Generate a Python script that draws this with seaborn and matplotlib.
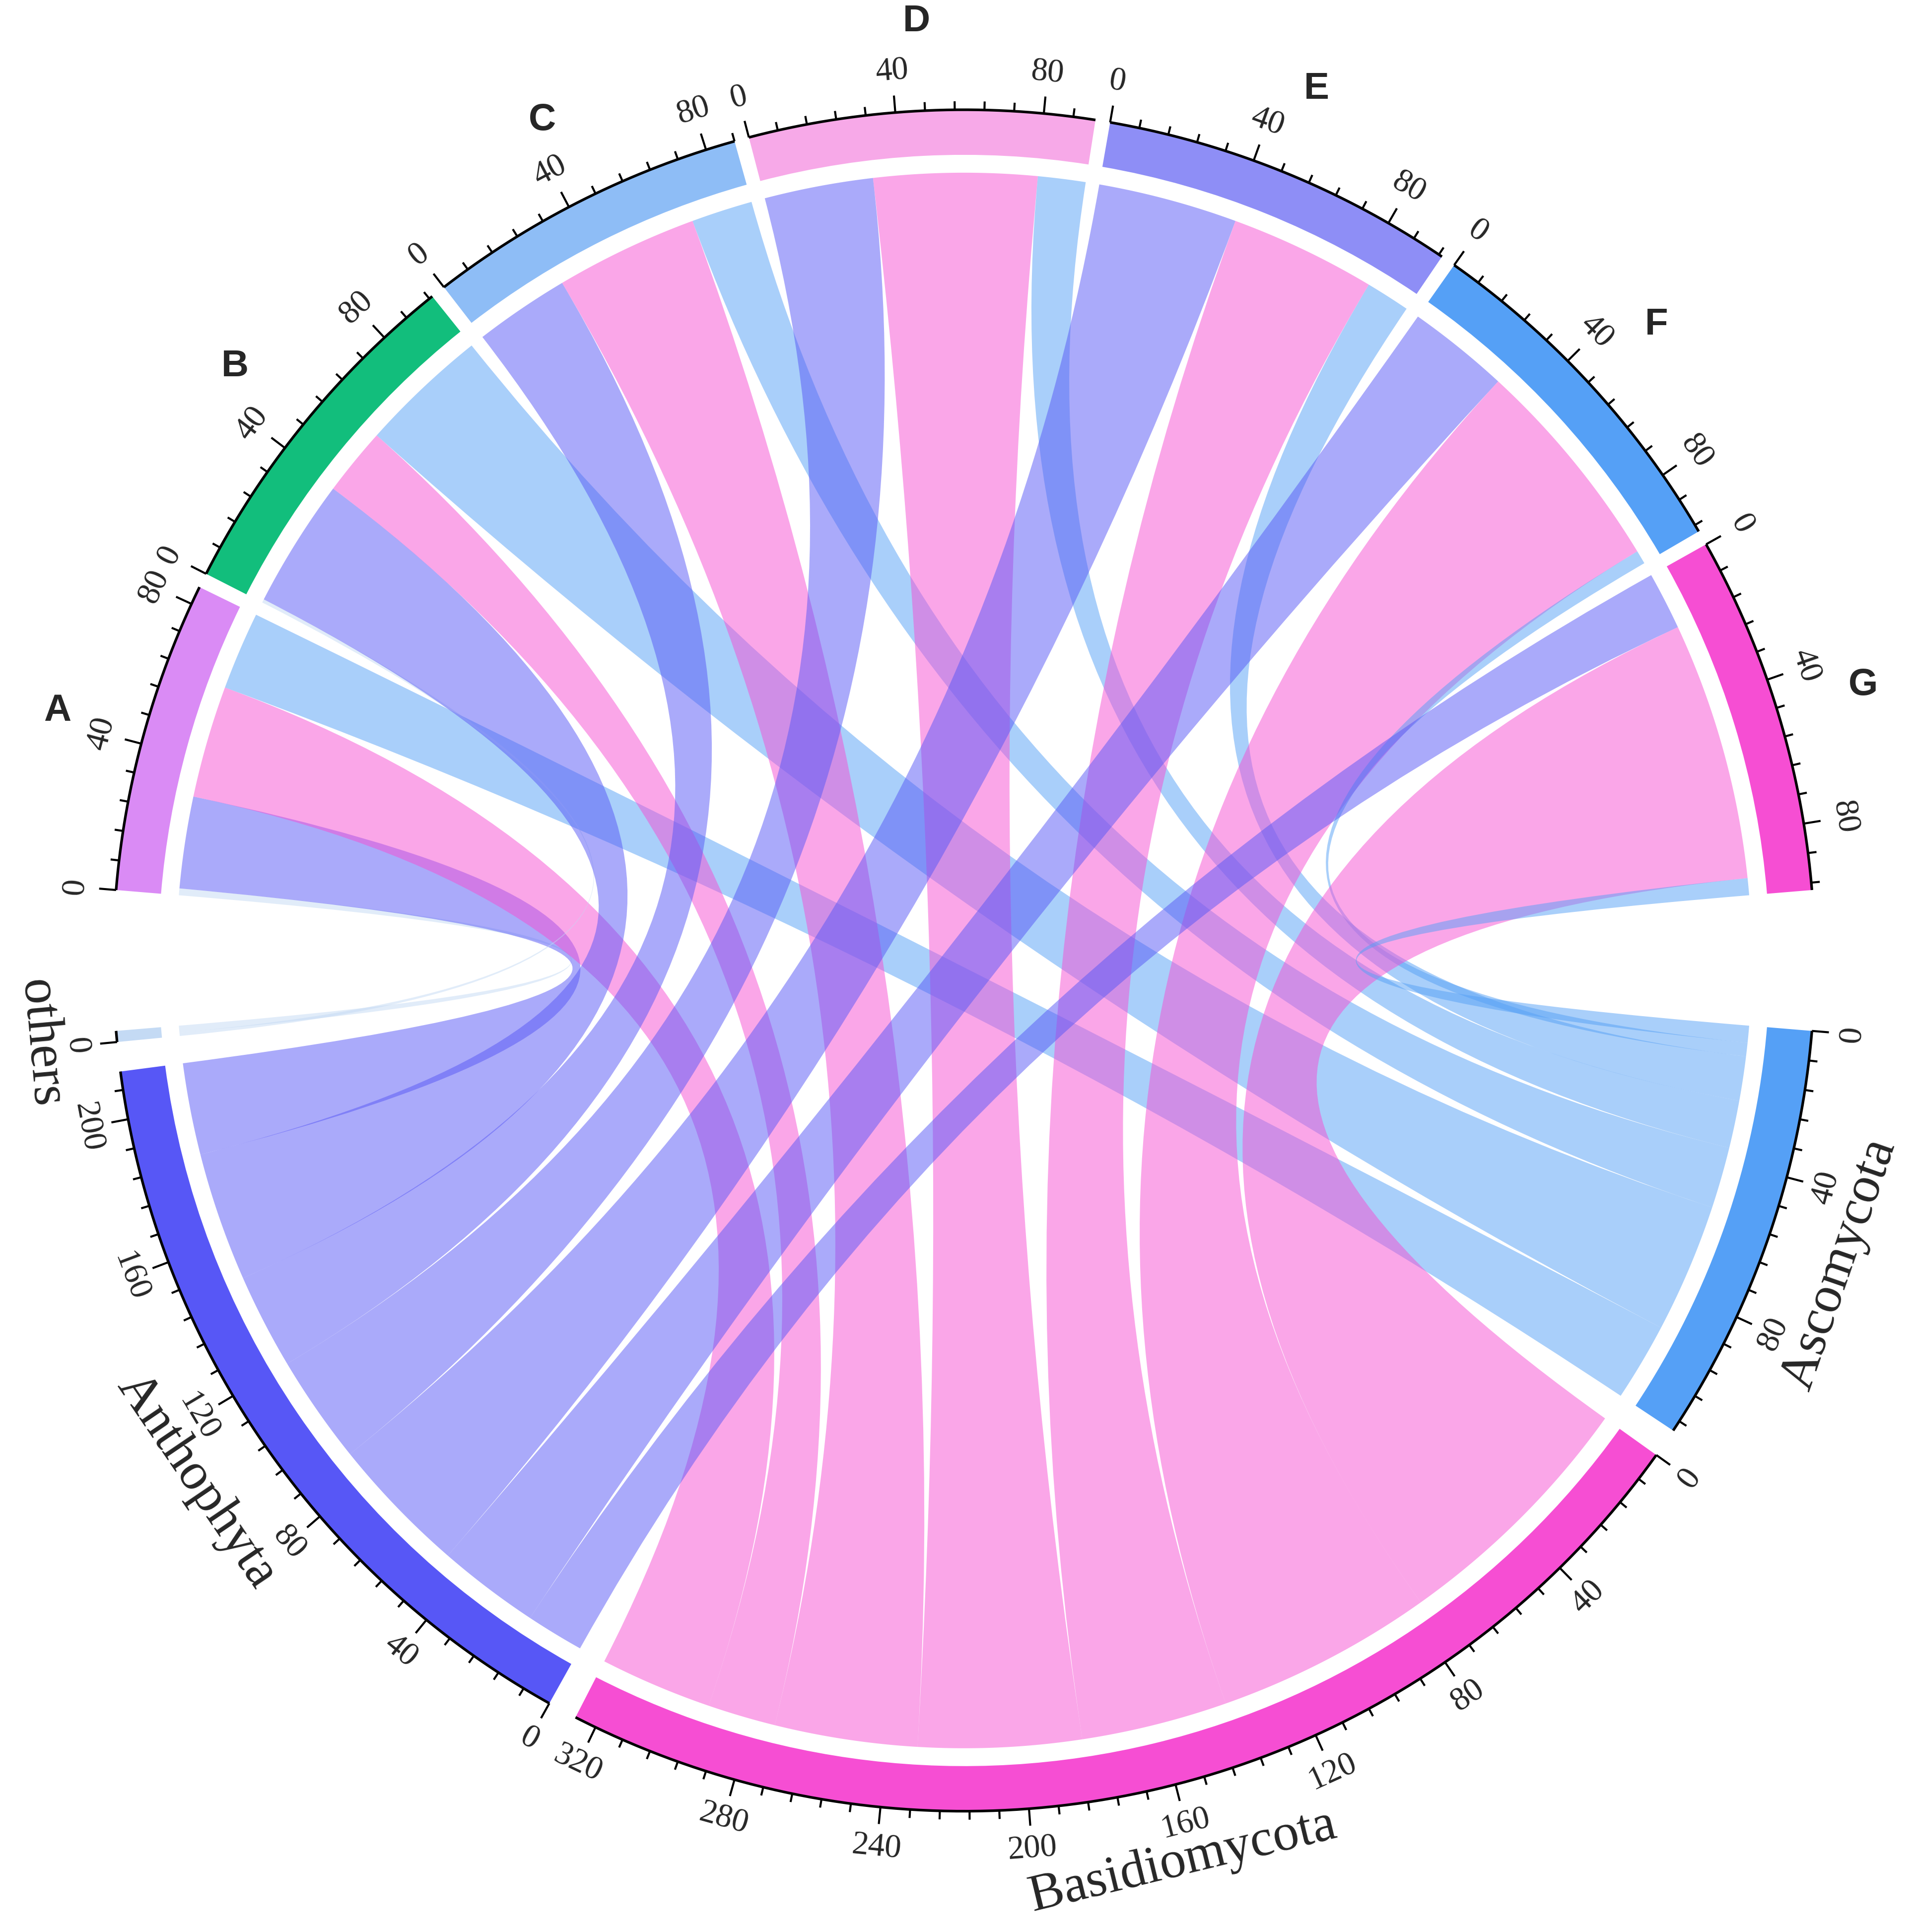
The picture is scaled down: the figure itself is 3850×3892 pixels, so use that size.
import numpy as np
import matplotlib
matplotlib.use("Agg")
import matplotlib.pyplot as plt
from matplotlib.path import Path
from matplotlib.patches import PathPatch, Wedge
from matplotlib.colors import to_rgba
import seaborn as sns

# sectors: upper half (groups A-G) and lower half (phyla)
top_names = ["A", "B", "C", "D", "E", "F", "G"]
bottom_names = ["Ascomycota", "Basidiomycota", "Anthophyta", "others"]

# link values, one entry per group A..G
to_others = [2, 1, 0, 0, 0, 0, 0]
to_anthophyta = [27, 38, 28, 32, 41, 30, 17]
to_basidiomycota = [33, 20, 42, 48, 43, 64, 76]
to_ascomycota = [23, 38, 18, 14, 13, 4, 5]

top_colors = ["#DA8BF5", "#12BE7C", "#8EBDF6", "#F7A9E8", "#8E8EF6", "#55A0F6", "#F64ED3"]
bottom_colors = ["#55A0F6", "#F64ED3", "#5757F6", "#C4DAF4"]

sns.set_theme(style="white")
plt.rcParams["font.family"] = ["Liberation Serif", "DejaVu Serif"]

links = {
    "others": to_others,
    "Anthophyta": to_anthophyta,
    "Basidiomycota": to_basidiomycota,
    "Ascomycota": to_ascomycota,
}
link_order_top = ["others", "Anthophyta", "Basidiomycota", "Ascomycota"]
bcol = dict(zip(bottom_names, bottom_colors))

n_top = len(top_names)
top_tot = [sum(links[b][i] for b in links) for i in range(n_top)]
bot_tot = {b: sum(links[b]) for b in bottom_names}
total = sum(top_tot)

deg_per = 164.5 / total
gap_top, gap_bot = 1.0, 2.0

top_start = []
a = 175.25
for v in top_tot:
    top_start.append(a)
    a -= v * deg_per + gap_top
bot_start = {}
a = -4.75
for b in bottom_names:
    bot_start[b] = a
    a -= bot_tot[b] * deg_per + gap_bot

R_OUT, TRACK_W, R_LINK = 1.0, 0.053, 0.926

fig = plt.figure(figsize=(38.5, 38.92), dpi=100)
ax = fig.add_axes([0, 0, 1, 1])
ax.set_xlim(-1.133, 1.113)
ax.set_ylim(-1.142, 1.129)
ax.axis("off")


def ang(start, val):
    return start - val * deg_per


def ribbon(ta0, ta1, ba0, ba1, r=R_LINK):
    t = np.radians(np.linspace(ta0, ta1, 80))
    b = np.radians(np.linspace(ba0, ba1, 80))
    verts = list(zip(r * np.cos(t), r * np.sin(t)))
    codes = [Path.MOVETO] + [Path.LINETO] * (len(t) - 1)
    verts += [(0, 0), (r * np.cos(b[0]), r * np.sin(b[0]))]
    codes += [Path.CURVE3, Path.CURVE3]
    verts += list(zip(r * np.cos(b[1:]), r * np.sin(b[1:])))
    codes += [Path.LINETO] * (len(b) - 1)
    verts += [(0, 0), (r * np.cos(t[0]), r * np.sin(t[0]))]
    codes += [Path.CURVE3, Path.CURVE3]
    verts.append((0, 0))
    codes.append(Path.CLOSEPOLY)
    return Path(verts, codes)


# positions of every link inside its sectors
top_seg = {}
for i in range(n_top):
    pos = 0
    for b in link_order_top:
        v = links[b][i]
        top_seg[(i, b)] = (pos, pos + v)
        pos += v
bot_seg = {}
for b in bottom_names:
    pos = 0
    for i in reversed(range(n_top)):
        v = links[b][i]
        bot_seg[(i, b)] = (pos, pos + v)
        pos += v

# ribbons
for i in range(n_top):
    for b in link_order_top:
        if links[b][i] <= 0:
            continue
        t0, t1 = top_seg[(i, b)]
        b0, b1 = bot_seg[(i, b)]
        p = ribbon(ang(top_start[i], t0), ang(top_start[i], t1),
                   ang(bot_start[b], b0), ang(bot_start[b], b1))
        ax.add_patch(PathPatch(p, facecolor=to_rgba(bcol[b], 0.5), edgecolor="none", lw=0))


def draw_sector(start, value, color, upper):
    end = ang(start, value)
    ax.add_patch(Wedge((0, 0), R_OUT, end, start, width=TRACK_W, facecolor=color, edgecolor="none"))
    th = np.radians(np.linspace(start, end, 200))
    ax.plot(R_OUT * np.cos(th), R_OUT * np.sin(th), color="black", lw=3.8, solid_capstyle="butt")
    for val in range(0, int(value) + 1, 8):
        t = ang(start, val)
        tr = np.radians(t)
        major = val % 40 == 0
        r2 = R_OUT + (0.02 if major else 0.01)
        ax.plot([R_OUT * np.cos(tr), r2 * np.cos(tr)], [R_OUT * np.sin(tr), r2 * np.sin(tr)],
                color="black", lw=3.0, solid_capstyle="butt")
        if major:
            rot = t - 90 if upper else t + 90
            ax.text(1.048 * np.cos(tr), 1.048 * np.sin(tr), str(val), rotation=rot,
                    rotation_mode="anchor", ha="center", va="center", fontsize=48,
                    family=["Liberation Serif", "DejaVu Serif"])
    return end


for i, name in enumerate(top_names):
    end = draw_sector(top_start[i], top_tot[i], top_colors[i], True)
    mid = np.radians((top_start[i] + end) / 2)
    ax.text(1.105 * np.cos(mid), 1.105 * np.sin(mid), name, ha="center", va="center",
            fontsize=55, fontweight="bold", family=["Liberation Sans", "DejaVu Sans"])

for b in bottom_names:
    end = draw_sector(bot_start[b], bot_tot[b], bcol[b], False)
    m = (bot_start[b] + end) / 2
    mid = np.radians(m)
    ax.text(1.09 * np.cos(mid), 1.09 * np.sin(mid), b, rotation=m + 90,
            rotation_mode="anchor", ha="center", va="center", fontsize=76,
            family=["Liberation Serif", "DejaVu Serif"])

fig.savefig("out.png", dpi=100, facecolor="white")
